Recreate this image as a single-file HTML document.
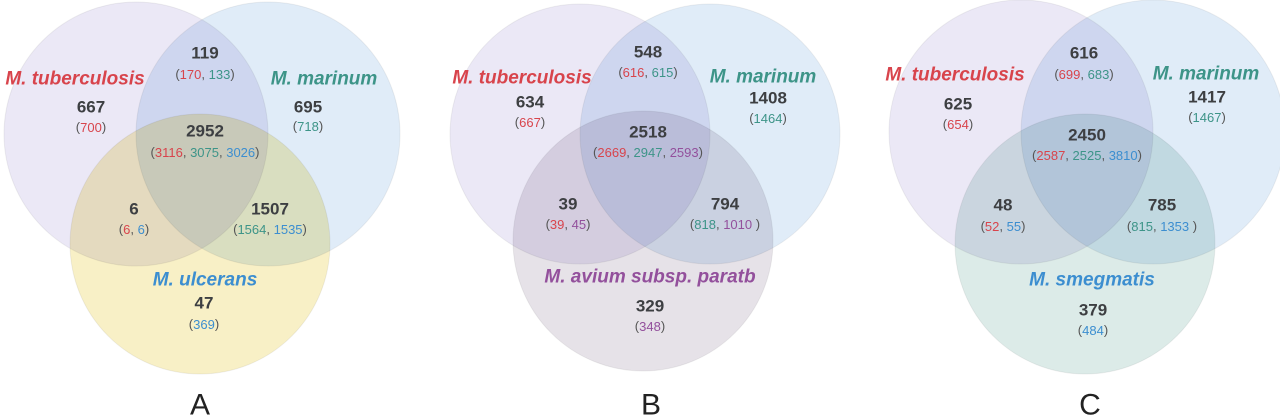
<!DOCTYPE html>
<html><head><meta charset="utf-8"><style>
html,body{margin:0;padding:0;background:#fff;width:1280px;height:419px;overflow:hidden}
svg{display:block}
text{font-family:"Liberation Sans",sans-serif;text-anchor:middle;dominant-baseline:central}
.n{font-weight:bold;font-size:17px;fill:#3d3f42}
.p{font-size:13px;fill:#555}
.t{font-weight:bold;font-style:italic;font-size:19px}
.L{font-size:30px;fill:#222}
.r{fill:#d8444c}.g{fill:#3d9488}.b{fill:#3c8ed0}.v{fill:#93509c}
circle{mix-blend-mode:multiply;stroke:#000;stroke-opacity:0.06;stroke-width:1}
</style></head><body>
<svg width="1280" height="419" viewBox="0 0 1280 419">
<g style="isolation:isolate">
<circle cx="136" cy="134" r="132" fill="#ebe8f6"/>
<circle cx="268" cy="134" r="132" fill="#e0ecf8"/>
<circle cx="200" cy="244" r="130" fill="#f8f0c6"/>
<circle cx="580" cy="134" r="130" fill="#ebe8f6"/>
<circle cx="710" cy="134" r="130" fill="#e0ecf8"/>
<circle cx="643" cy="241" r="130" fill="#e6e2e8"/>
<circle cx="1021" cy="132" r="132" fill="#ebe8f6"/>
<circle cx="1153" cy="132" r="132" fill="#e0ecf8"/>
<circle cx="1085" cy="244" r="130" fill="#dcebe8"/>
</g>

<text class="t r" x="75" y="79">M. tuberculosis</text>
<text class="t g" x="324" y="79">M. marinum</text>
<text class="t b" x="205" y="280">M. ulcerans</text>
<text class="n" x="205" y="53">119</text>
<text class="p" x="205" y="74">(<tspan class="r">170</tspan>, <tspan class="g">133</tspan>)</text>
<text class="n" x="91" y="107">667</text>
<text class="p" x="91" y="127">(<tspan class="r">700</tspan>)</text>
<text class="n" x="308" y="107">695</text>
<text class="p" x="308" y="126">(<tspan class="g">718</tspan>)</text>
<text class="n" x="205" y="131">2952</text>
<text class="p" x="205" y="152">(<tspan class="r">3116</tspan>, <tspan class="g">3075</tspan>, <tspan class="b">3026</tspan>)</text>
<text class="n" x="134" y="209">6</text>
<text class="p" x="134" y="229">(<tspan class="r">6</tspan>, <tspan class="b">6</tspan>)</text>
<text class="n" x="270" y="209">1507</text>
<text class="p" x="270" y="229">(<tspan class="g">1564</tspan>, <tspan class="b">1535</tspan>)</text>
<text class="n" x="204" y="303">47</text>
<text class="p" x="204" y="324">(<tspan class="b">369</tspan>)</text>
<text class="L" x="200" y="405">A</text>

<text class="t r" x="522" y="78">M. tuberculosis</text>
<text class="t g" x="763" y="77">M. marinum</text>
<text class="t v" x="650" y="277">M. avium subsp. paratb</text>
<text class="n" x="648" y="52">548</text>
<text class="p" x="648" y="72">(<tspan class="r">616</tspan>, <tspan class="g">615</tspan>)</text>
<text class="n" x="530" y="102">634</text>
<text class="p" x="530" y="122">(<tspan class="r">667</tspan>)</text>
<text class="n" x="768" y="98">1408</text>
<text class="p" x="768" y="118">(<tspan class="g">1464</tspan>)</text>
<text class="n" x="648" y="132">2518</text>
<text class="p" x="648" y="152">(<tspan class="r">2669</tspan>, <tspan class="g">2947</tspan>, <tspan class="v">2593</tspan>)</text>
<text class="n" x="568" y="204">39</text>
<text class="p" x="568" y="224">(<tspan class="r">39</tspan>, <tspan class="v">45</tspan>)</text>
<text class="n" x="725" y="204">794</text>
<text class="p" x="725" y="224">(<tspan class="g">818</tspan>, <tspan class="v">1010</tspan> )</text>
<text class="n" x="650" y="306">329</text>
<text class="p" x="650" y="326">(<tspan class="v">348</tspan>)</text>
<text class="L" x="651" y="405">B</text>

<text class="t r" x="955" y="75">M. tuberculosis</text>
<text class="t g" x="1206" y="74">M. marinum</text>
<text class="t b" x="1092" y="280">M. smegmatis</text>
<text class="n" x="1084" y="53">616</text>
<text class="p" x="1084" y="74">(<tspan class="r">699</tspan>, <tspan class="g">683</tspan>)</text>
<text class="n" x="958" y="104">625</text>
<text class="p" x="958" y="124">(<tspan class="r">654</tspan>)</text>
<text class="n" x="1207" y="97">1417</text>
<text class="p" x="1207" y="117">(<tspan class="g">1467</tspan>)</text>
<text class="n" x="1087" y="135">2450</text>
<text class="p" x="1087" y="155">(<tspan class="r">2587</tspan>, <tspan class="g">2525</tspan>, <tspan class="b">3810</tspan>)</text>
<text class="n" x="1003" y="205">48</text>
<text class="p" x="1003" y="226">(<tspan class="r">52</tspan>, <tspan class="b">55</tspan>)</text>
<text class="n" x="1162" y="205">785</text>
<text class="p" x="1162" y="226">(<tspan class="g">815</tspan>, <tspan class="b">1353</tspan> )</text>
<text class="n" x="1093" y="310">379</text>
<text class="p" x="1093" y="330">(<tspan class="b">484</tspan>)</text>
<text class="L" x="1090" y="405">C</text>
</svg>
</body></html>
